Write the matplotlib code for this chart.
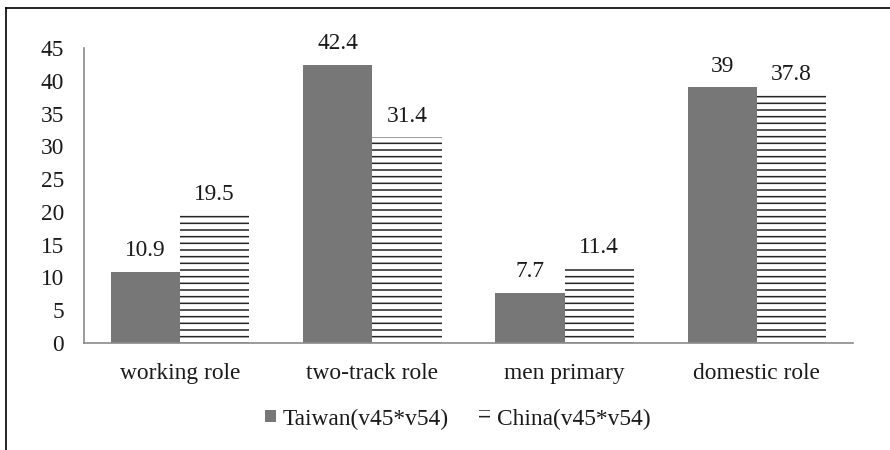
import matplotlib
matplotlib.use("Agg")
import matplotlib.pyplot as plt
import numpy as np
from matplotlib.lines import Line2D

# Datos
categorias = ["working role", "two-track role", "men primary", "domestic role"]
taiwan = [10.9, 42.4, 7.7, 39]
china = [19.5, 31.4, 11.4, 37.8]
etiquetas_taiwan = ["10.9", "42.4", "7.7", "39"]
etiquetas_china = ["19.5", "31.4", "11.4", "37.8"]
serie_nombres = ["Taiwan(v45*v54)", "China(v45*v54)"]
yticks = [0, 5, 10, 15, 20, 25, 30, 35, 40, 45]

plt.rcParams["font.family"] = ["Liberation Serif", "DejaVu Serif"]
plt.rcParams["hatch.linewidth"] = 1.4

DPI = 80
FS = 21
fig = plt.figure(figsize=(890 / DPI, 450 / DPI), dpi=DPI)
ax = fig.add_axes([84 / 890, 1 - 343 / 450, 769 / 890, 295 / 450])

x = np.arange(len(categorias))
ancho = 0.36
b1 = ax.bar(x - ancho / 2, taiwan, ancho, color="#777777", linewidth=0,
            label=serie_nombres[0])
b2 = ax.bar(x + ancho / 2, china, ancho, color="white", edgecolor="#262626",
            linewidth=0, hatch="--", label=serie_nombres[1])

# Etiquetas de valores sobre las barras
for barras, textos in [(b1, etiquetas_taiwan), (b2, etiquetas_china)]:
    for rect, txt in zip(barras, textos):
        ax.annotate(txt, (rect.get_x() + rect.get_width() / 2, rect.get_height()),
                    xytext=(0, 9.5), textcoords="offset points",
                    ha="center", va="bottom", fontsize=FS, color="#1a1a1a")

ax.set_xlim(-0.5, 3.5)
ax.set_ylim(0, 45)
ax.set_yticks(yticks)
ax.set_yticklabels([str(v) for v in yticks], fontsize=FS, color="#1a1a1a")
ax.set_xticks(x)
ax.set_xticklabels(categorias, fontsize=FS, color="#1a1a1a")
ax.tick_params(axis="both", length=0)
ax.tick_params(axis="y", pad=18)
ax.tick_params(axis="x", pad=18)

for lado in ["top", "right"]:
    ax.spines[lado].set_visible(False)
for lado in ["left", "bottom"]:
    ax.spines[lado].set_color("#8a8a8a")
    ax.spines[lado].set_linewidth(1.5)

leg = fig.legend(loc="center", bbox_to_anchor=(458 / 890, 1 - 419 / 450), ncol=2,
                 frameon=False, fontsize=FS, handlelength=0.45, handleheight=0.38,
                 handletextpad=0.3, columnspacing=1.3)
for t in leg.get_texts():
    t.set_color("#1a1a1a")

# Marco de la imagen (arriba e izquierda)
fig.add_artist(Line2D([6 / 890, 1], [1 - 8 / 450, 1 - 8 / 450], color="black", lw=1.5))
fig.add_artist(Line2D([6 / 890, 6 / 890], [0, 1 - 8 / 450], color="black", lw=1.5))

fig.savefig("out.png", dpi=DPI)
